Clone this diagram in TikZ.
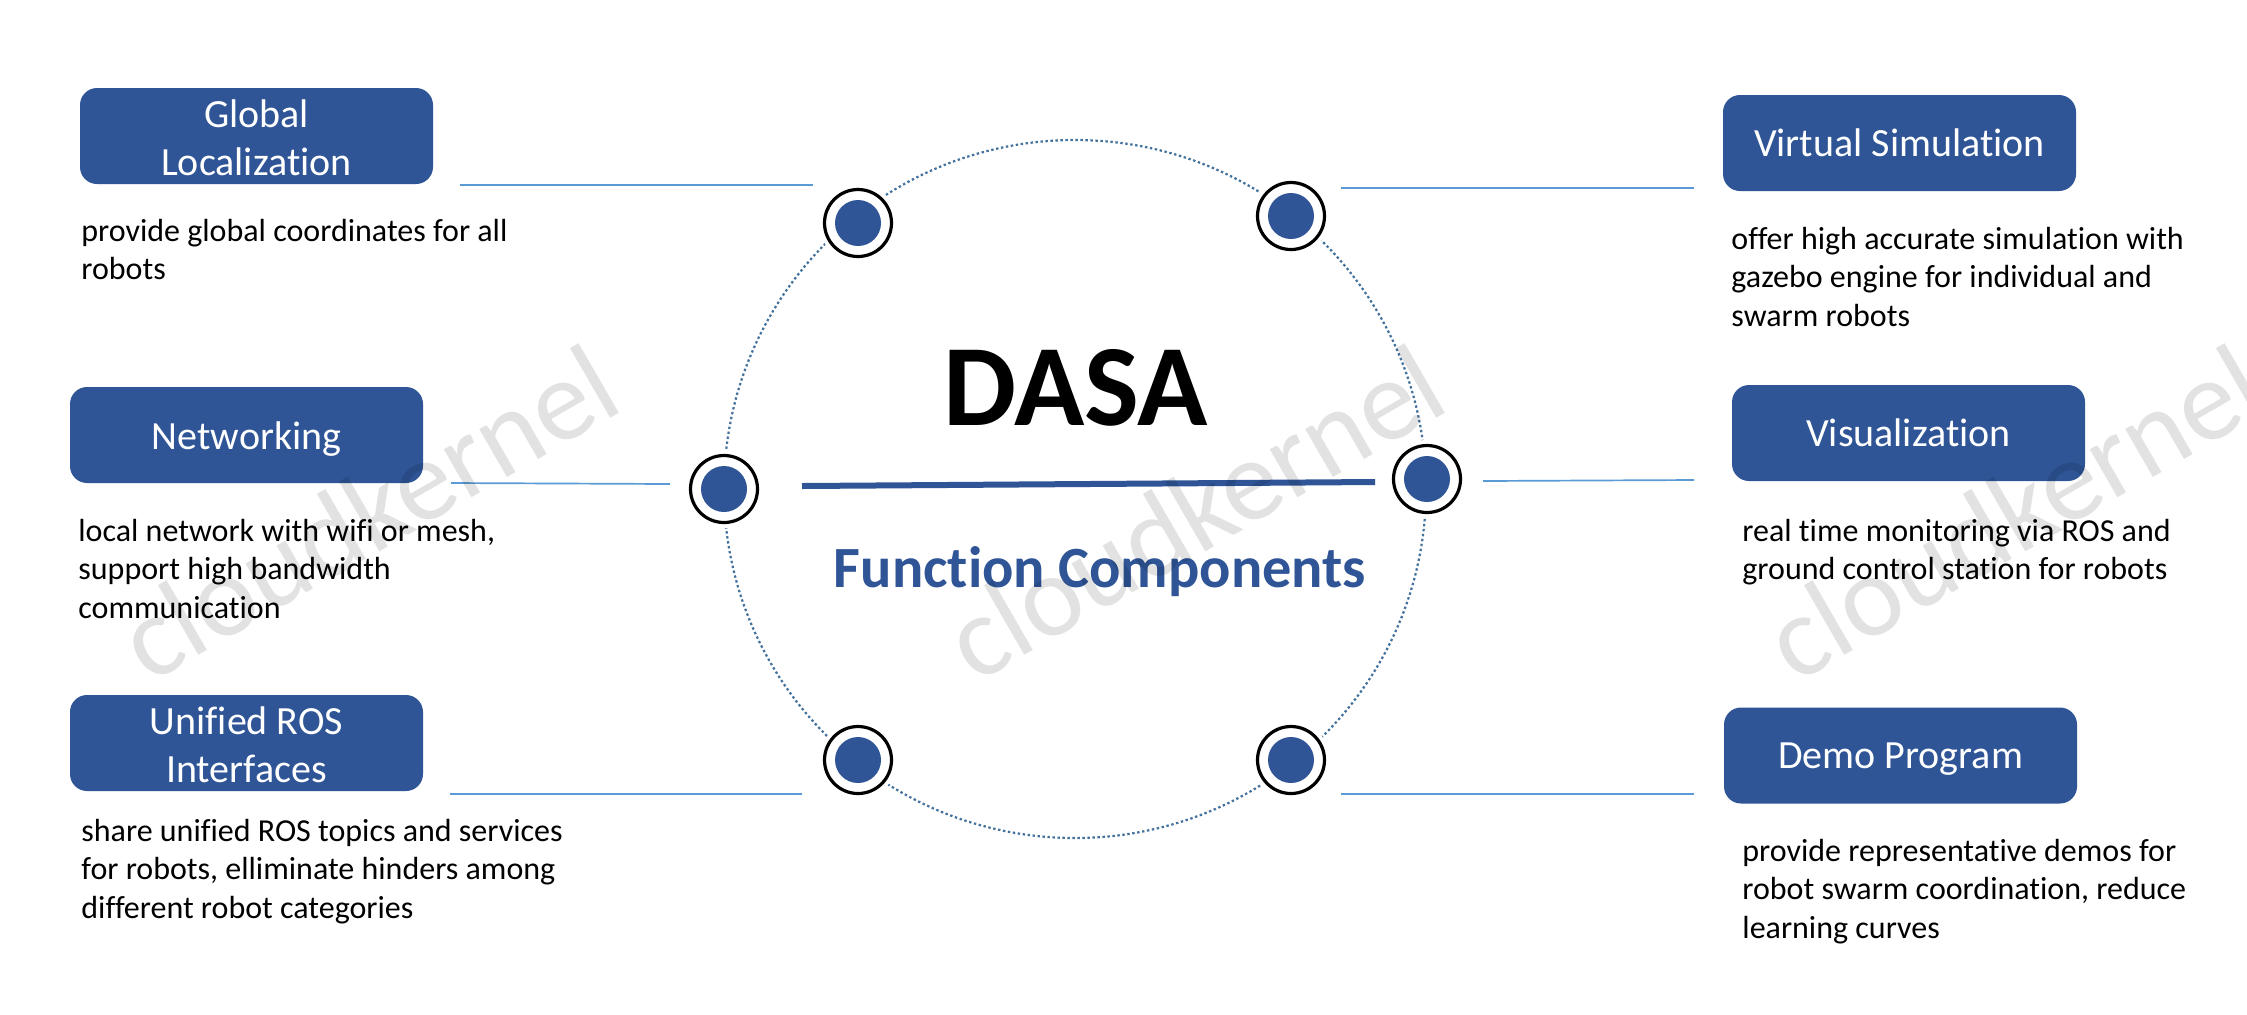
\documentclass[tikz,border=0pt]{standalone}
\usepackage{fontspec}
\setmainfont{Carlito}[RawFeature={-liga,-clig,-dlig}]
\definecolor{navy}{HTML}{2F5597}
\definecolor{lineblue}{HTML}{5B9BD5}
\definecolor{dotblue}{HTML}{41719C}
\newcommand{\firstline}{\rule{0pt}{14pt}}
\newcommand{\boxtop}{\rule{0pt}{16pt}}
\newcommand{\lowered}[1]{\raisebox{-2pt}[\height][\depth]{#1}}
\begin{document}
\begin{tikzpicture}[x=0.5pt,y=-0.5pt,
  box/.style={fill=navy,draw=none,rounded corners=8.5pt,minimum width=176.5pt,minimum height=48pt,inner sep=0pt,text=white,align=center,font=\fontsize{20}{24}\selectfont},
  desc/.style={anchor=north west,inner sep=0pt,align=left,font=\fontsize{16}{19.25}\selectfont},
  link/.style={draw=lineblue,line width=0.85pt},
  ring/.style={circle,draw=black,fill=white,line width=1.6pt,minimum size=33.5pt,inner sep=0pt},
  halo/.style={circle,fill=white,minimum size=39pt,inner sep=0pt},
  dotcore/.style={circle,fill=navy,minimum size=23pt,inner sep=0pt},
  mark text/.style={rotate=30,text=black,opacity=0.115,font=\fontsize{58}{70}\selectfont}]
\useasboundingbox (0,0) rectangle (2247,1014);
\clip (0,0) rectangle (2247,1014);
\fill[white] (0,0) rectangle (2247,1014);

% dotted circle
\draw[dotblue,line width=1.1pt,dash pattern=on 1.2pt off 1.3pt] (1075,489) ellipse [x radius=351,y radius=349];

% rings
\foreach \n/\x/\y in {r1/858/223,r2/1291/216,r3/1427/479,r4/724/489,r5/858/760,r6/1291/760}{
  \node[halo] (\n h) at (\x,\y) {};
  \node[ring] (\n) at (\x,\y) {};
  \node[dotcore] (\n c) at (\x,\y) {};
}

% boxes
\node[box] (b1) at (256.5,136) {\boxtop Global\\Localization};
\node[box] (b2) at (246.5,435) {\lowered{Networking}};
\node[box] (b3) at (246.5,743) {\boxtop Unified ROS\\Interfaces};
\node[box] (b4) at (1899.5,143) {Virtual Simulation};
\node[box] (b5) at (1908.5,433) {Visualization};
\node[box] (b6) at (1900.5,755.5) {\lowered{Demo Program}};

% connectors
\coordinate (a1) at (460,185); \coordinate (e1) at (813,185);
\coordinate (a2) at (451,483); \coordinate (e2) at (670,484);
\coordinate (a3) at (450,794); \coordinate (e3) at (802,794);
\coordinate (a4) at (1341,188); \coordinate (e4) at (1694,188);
\coordinate (a5) at (1483,481); \coordinate (e5) at (1694,480);
\coordinate (a6) at (1341,794); \coordinate (e6) at (1694,794);
\foreach \i in {1,...,6}{\draw[link] (a\i) -- (e\i);}

% centre
\coordinate (t1) at (802,486); \coordinate (t2) at (1375,482);
\draw[navy,line width=3pt] (t1) -- (t2);
\node[anchor=base,inner sep=0pt,font=\fontsize{58}{70}\selectfont\bfseries] (dasa) at (1076,425) {DASA};
\node[anchor=base,inner sep=0pt,text=navy,font=\fontsize{29.2}{35}\selectfont\bfseries] (fc) at (1100,587) {Function Components};

% descriptions
\node[desc] (d1) at (81,213) {\firstline provide global coordinates for all\\robots};
\node[desc] (d2) at (78,513) {\firstline local network with wifi or mesh,\\support high bandwidth\\communication};
\node[desc] (d3) at (81,813) {\firstline share unified ROS topics and services\\for robots, elliminate hinders among\\different robot categories};
\node[desc] (d4) at (1731,221) {\firstline offer high accurate simulation with\\gazebo engine for individual and\\swarm robots};
\node[desc] (d5) at (1742,513) {\firstline real time monitoring via ROS and\\ground control station for robots};
\node[desc] (d6) at (1742,833) {\firstline provide representative demos for\\robot swarm coordination, reduce\\learning curves};

% watermarks
\node[mark text] (w1) at (368,512) {cloudkernel};
\node[mark text] (w2) at (1194,512) {cloudkernel};
\node[mark text] (w3) at (2014,512) {cloudkernel};
\end{tikzpicture}
\end{document}
